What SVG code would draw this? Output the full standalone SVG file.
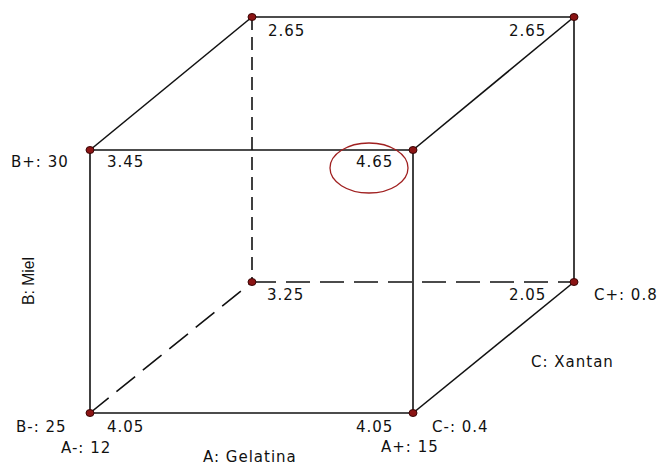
<svg xmlns="http://www.w3.org/2000/svg" width="659" height="467" viewBox="0 0 659 467">
<style>
.e{stroke:#111;stroke-width:1.6;fill:none}
.d{stroke:#111;stroke-width:1.6;fill:none;stroke-dasharray:13 7}
.dh{stroke:#111;stroke-width:1.6;fill:none;stroke-dasharray:24 10}
.t{font-family:"DejaVu Sans",sans-serif;font-size:15px;fill:#111;letter-spacing:1px}
.pt{fill:#8b1414;stroke:#3a0505;stroke-width:1}
</style>
<rect width="659" height="467" fill="#fff"/>
<g id="connectors">
<line class="e" x1="90" y1="150" x2="413" y2="150"/>
<line class="e" x1="90" y1="413" x2="413" y2="413"/>
<line class="e" x1="90" y1="150" x2="90" y2="413"/>
<line class="e" x1="413" y1="150" x2="413" y2="413"/>
<line class="e" x1="252" y1="17" x2="574" y2="17"/>
<line class="e" x1="574" y1="17" x2="574" y2="282"/>
<line class="e" x1="90" y1="150" x2="252" y2="17"/>
<line class="e" x1="413" y1="150" x2="574" y2="17"/>
<line class="e" x1="413" y1="413" x2="574" y2="282"/>
<line class="d" x1="252" y1="17" x2="252" y2="282"/>
<line class="dh" x1="252" y1="282" x2="574" y2="282"/>
<line class="dh" x1="90" y1="413" x2="252" y2="282"/>
</g>
<g id="n-btl"><ellipse class="pt" cx="252" cy="17" rx="4" ry="3.5"/><text class="t" x="268" y="36">2.65</text></g>
<g id="n-btr"><ellipse class="pt" cx="574" cy="17" rx="4" ry="3.5"/><text class="t" x="509" y="36">2.65</text></g>
<g id="n-ftl"><ellipse class="pt" cx="90" cy="150" rx="4" ry="3.5"/><text class="t" x="11" y="167">B+: 30</text><text class="t" x="107" y="167">3.45</text></g>
<g id="n-ftr"><ellipse class="pt" cx="413" cy="150" rx="4" ry="3.5"/><text class="t" x="356" y="167">4.65</text><ellipse cx="369" cy="168" rx="39" ry="25" fill="none" stroke="#a02020" stroke-width="1.3"/></g>
<g id="n-bbl"><ellipse class="pt" cx="252" cy="282" rx="4" ry="3.5"/><text class="t" x="267" y="300">3.25</text></g>
<g id="n-bbr"><ellipse class="pt" cx="574" cy="282" rx="4" ry="3.5"/><text class="t" x="509" y="300">2.05</text><text class="t" x="594" y="300">C+: 0.8</text></g>
<g id="n-fbl"><ellipse class="pt" cx="90" cy="413" rx="4" ry="3.5"/><text class="t" x="16" y="432">B-: 25</text><text class="t" x="107" y="432">4.05</text><text class="t" x="61" y="453">A-: 12</text></g>
<g id="n-fbr"><ellipse class="pt" cx="413" cy="413" rx="4" ry="3.5"/><text class="t" x="356" y="432">4.05</text><text class="t" x="432" y="432">C-: 0.4</text><text class="t" x="381" y="452">A+: 15</text></g>
<g id="axes">
<text class="t" x="203" y="462">A: Gelatina</text>
<text class="t" x="531" y="367">C: Xantan</text>
<text class="t" style="font-family:'Liberation Sans',sans-serif;font-size:17px;letter-spacing:0" textLength="48" lengthAdjust="spacingAndGlyphs" transform="translate(34,305) rotate(-90)">B: Miel</text>
</g>
</svg>
